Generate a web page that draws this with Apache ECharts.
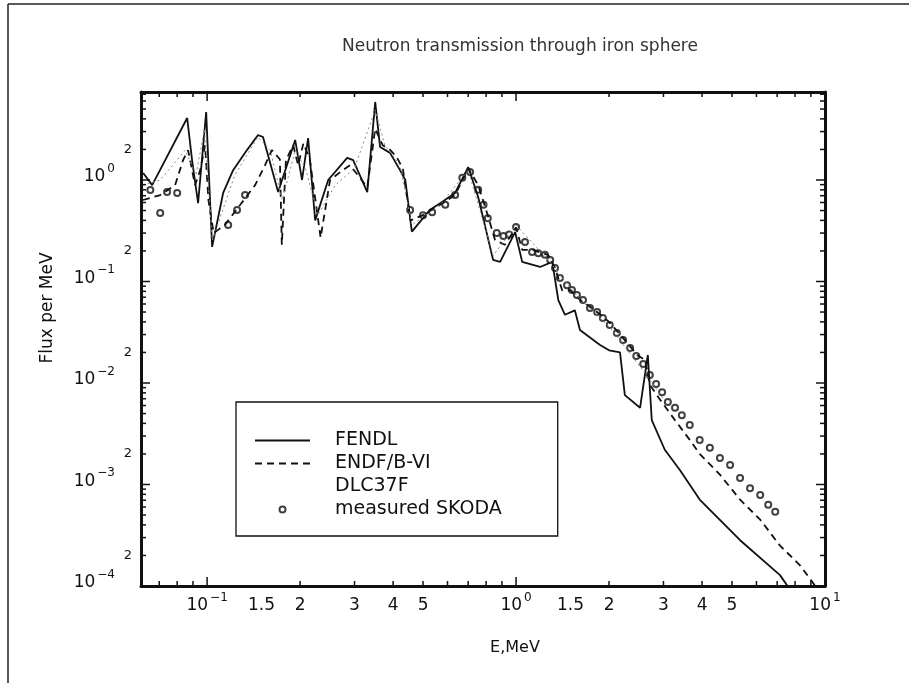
<!DOCTYPE html>
<html>
<head>
<meta charset="utf-8">
<title>Neutron transmission through iron sphere</title>
<script src="https://cdn.jsdelivr.net/npm/echarts@6/dist/echarts.min.js"></script>
<style>
  html, body { margin: 0; padding: 0; background: #fff; }
  #chart { width: 909px; height: 683px; }
</style>
</head>
<body>
<div id="chart"></div>
<script>
// values: energy in MeV, flux per MeV
const fendlE = [0.0621, 0.0664, 0.0862, 0.0894, 0.0935, 0.0993, 0.1038, 0.1127, 0.1214, 0.1346, 0.1462, 0.1517, 0.1698, 0.1928, 0.2029, 0.2123, 0.2238, 0.2466, 0.284, 0.297, 0.330, 0.350, 0.363, 0.391, 0.421, 0.438, 0.460, 0.527, 0.568, 0.635, 0.700, 0.754, 0.843, 0.888, 0.993, 1.047, 1.196, 1.31, 1.37, 1.44, 1.55, 1.61, 1.87, 2.0, 2.17, 2.25, 2.52, 2.67, 2.75, 3.03, 3.39, 3.93, 5.3, 7.15, 8.5];
const fendlFlux = [1.17, 0.89, 4.08, 1.57, 0.59, 4.68, 0.219, 0.745, 1.25, 1.97, 2.77, 2.65, 0.76, 2.48, 1.0, 2.59, 0.40, 1.0, 1.65, 1.57, 0.76, 5.87, 2.11, 1.85, 1.25, 1.0, 0.31, 0.51, 0.59, 0.745, 1.34, 0.68, 0.163, 0.156, 0.307, 0.156, 0.139, 0.156, 0.0657, 0.047, 0.052, 0.0333, 0.0237, 0.021, 0.02, 0.0076, 0.0057, 0.0189, 0.0043, 0.0022, 0.00139, 0.00071, 0.000284, 0.000128, 0.00006];

const endfE = [0.062, 0.0705, 0.0788, 0.0836, 0.0868, 0.0914, 0.095, 0.0985, 0.101, 0.105, 0.114, 0.128, 0.143, 0.154, 0.162, 0.172, 0.1745, 0.18, 0.19, 0.197, 0.205, 0.215, 0.233, 0.25, 0.27, 0.29, 0.33, 0.35, 0.37, 0.39, 0.41, 0.43, 0.455, 0.5, 0.568, 0.635, 0.70, 0.754, 0.81, 0.855, 0.92, 1.0, 1.047, 1.13, 1.27, 1.337, 1.41, 1.5, 1.61, 1.8, 2.0, 2.25, 2.47, 2.62, 2.71, 2.93, 3.27, 3.65, 3.93, 4.57, 5.31, 6.17, 7.15, 8.3, 9.3];
const endfFlux = [0.635, 0.71, 0.89, 1.57, 1.97, 0.89, 1.25, 2.2, 0.635, 0.30, 0.36, 0.57, 0.89, 1.4, 1.97, 1.6, 0.23, 1.57, 2.2, 1.4, 2.3, 1.6, 0.27, 1.0, 1.2, 1.4, 0.85, 3.2, 2.2, 2.0, 1.7, 1.3, 0.4, 0.45, 0.57, 0.71, 1.31, 0.89, 0.45, 0.256, 0.23, 0.34, 0.205, 0.205, 0.183, 0.136, 0.082, 0.082, 0.066, 0.052, 0.04, 0.0265, 0.0188, 0.0168, 0.0096, 0.0068, 0.0043, 0.00275, 0.002, 0.00125, 0.00071, 0.00045, 0.00025, 0.00016, 0.0001];

const dlcE = [0.062, 0.0705, 0.085, 0.092, 0.098, 0.104, 0.123, 0.146, 0.16, 0.175, 0.193, 0.209, 0.228, 0.26, 0.30, 0.35, 0.376, 0.421, 0.46, 0.568, 0.70, 0.843, 1.0, 1.3, 1.6, 2.0, 2.5, 3.0];
const dlcFlux = [0.89, 1.0, 1.97, 1.12, 3.1, 0.256, 1.12, 2.65, 1.97, 0.635, 1.97, 1.25, 0.45, 0.89, 1.31, 4.9, 2.2, 1.4, 0.36, 0.57, 1.25, 0.18, 0.36, 0.15, 0.068, 0.036, 0.015, 0.007];

const skodaE = [0.0655, 0.0705, 0.0742, 0.080, 0.117, 0.125, 0.1327, 0.454, 0.50, 0.535, 0.59, 0.635, 0.67, 0.71, 0.754, 0.785, 0.81, 0.866, 0.91, 0.95, 1.0, 1.069, 1.127, 1.18, 1.24, 1.29, 1.337, 1.387, 1.462, 1.517, 1.574, 1.647, 1.735, 1.83, 1.91, 2.01, 2.12, 2.22, 2.34, 2.45, 2.58, 2.71, 2.84, 2.97, 3.10, 3.27, 3.44, 3.65, 3.93, 4.24, 4.57, 4.93, 5.31, 5.72, 6.17, 6.55, 6.9];
const skodaFlux = [0.797, 0.473, 0.76, 0.745, 0.36, 0.506, 0.71, 0.506, 0.45, 0.48, 0.57, 0.71, 1.05, 1.2, 0.80, 0.57, 0.42, 0.30, 0.28, 0.29, 0.344, 0.245, 0.195, 0.19, 0.183, 0.163, 0.136, 0.108, 0.092, 0.0825, 0.0737, 0.0658, 0.0548, 0.050, 0.0437, 0.0372, 0.0311, 0.0265, 0.0221, 0.0185, 0.0154, 0.012, 0.0098, 0.0081, 0.0065, 0.0057, 0.0048, 0.00386, 0.00275, 0.0023, 0.00182, 0.00156, 0.00116, 0.00092, 0.00079, 0.00063, 0.00054];

// axis ranges and ticks
const X_MIN = 0.0611, X_MAX = 10;
const Y_MIN = 1e-4, Y_MAX = 7.36;
const xMajorTicks = [0.1, 1, 10];
const xMinorTicks = [0.07, 0.08, 0.09, 0.2, 0.3, 0.4, 0.5, 0.6, 0.7, 0.8, 0.9, 2, 3, 4, 5, 6, 7, 8, 9];
const yMajorTicks = [1e-4, 1e-3, 1e-2, 1e-1, 1];
const yMinorTicks = [2e-4, 3e-4, 4e-4, 5e-4, 6e-4, 7e-4, 8e-4, 9e-4,
  2e-3, 3e-3, 4e-3, 5e-3, 6e-3, 7e-3, 8e-3, 9e-3,
  0.02, 0.03, 0.04, 0.05, 0.06, 0.07, 0.08, 0.09,
  0.2, 0.3, 0.4, 0.5, 0.6, 0.7, 0.8, 0.9,
  2, 3, 4, 5, 6, 7];
const xLabelValues = [0.1, 0.15, 0.2, 0.3, 0.4, 0.5, 1, 1.5, 2, 3, 4, 5, 10];
const xLabelTexts = ['10^−1', '1.5', '2', '3', '4', '5', '10^0', '1.5', '2', '3', '4', '5', '10^1'];
const yLabelValues = [1, 0.1, 0.01, 0.001, 0.0001];
const yLabelTexts = ['10^0', '10^−1', '10^−2', '10^−3', '10^−4'];
const yTwoValues = [2, 0.2, 0.02, 0.002, 0.0002];
const yTwoTexts = ['2', '2', '2', '2', '2'];

const FONT = 'DejaVu Sans';
const INK = '#111';
const zip = (xs, ys) => xs.map((x, i) => [x, ys[i]]);

// '10^-1' -> rich text with a raised exponent
function richLabel(t) {
  const m = t.match(/^(\d+)\^(.+)$/);
  return m ? '{b|' + m[1] + '}{e|' + m[2] + '}' : '{b|' + t + '}';
}

// inside ticks on all four sides of the frame
function tickSeries(values, axis, len) {
  return {
    type: 'custom', silent: true, z: 4,
    data: values.map(v => axis === 'x' ? [v, Y_MIN] : [X_MIN, v]),
    renderItem: (params, api) => {
      const style = { stroke: INK, lineWidth: 1.5 };
      if (axis === 'x') {
        const b = api.coord([api.value(0), Y_MIN]);
        const t = api.coord([api.value(0), Y_MAX]);
        return { type: 'group', children: [
          { type: 'line', shape: { x1: b[0], y1: b[1], x2: b[0], y2: b[1] - len }, style },
          { type: 'line', shape: { x1: t[0], y1: t[1], x2: t[0], y2: t[1] + len }, style }
        ] };
      }
      const l = api.coord([X_MIN, api.value(1)]);
      const r = api.coord([X_MAX, api.value(1)]);
      return { type: 'group', children: [
        { type: 'line', shape: { x1: l[0], y1: l[1], x2: l[0] + len, y2: l[1] }, style },
        { type: 'line', shape: { x1: r[0], y1: r[1], x2: r[0] - len, y2: r[1] }, style }
      ] };
    }
  };
}

// tick labels placed through the axes' own scale
function labelSeries(values, texts, axis, dx, dy, align, size) {
  return {
    type: 'custom', silent: true, z: 4,
    data: values.map(v => axis === 'x' ? [v, Y_MIN] : [X_MIN, v]),
    renderItem: (params, api) => {
      const p = axis === 'x' ? api.coord([api.value(0), Y_MIN]) : api.coord([X_MIN, api.value(1)]);
      return {
        type: 'text', x: p[0] + dx, y: p[1] + dy,
        style: {
          text: richLabel(texts[params.dataIndex]), align: align, verticalAlign: 'middle',
          rich: {
            b: { fontFamily: FONT, fontSize: size, lineHeight: size + 6, verticalAlign: 'bottom', fill: INK },
            e: { fontFamily: FONT, fontSize: Math.round(size * 0.72), lineHeight: size * 0.72, verticalAlign: 'top', fill: INK, padding: [0, 0, 0, 2] }
          }
        }
      };
    }
  };
}

const baseAxis = {
  type: 'log', logBase: 10,
  axisLine: { onZero: false, lineStyle: { color: INK, width: 3 } },
  axisTick: { show: false }, axisLabel: { show: false },
  splitLine: { show: false }, minorTick: { show: false }
};

const chart = echarts.init(document.getElementById('chart'));
chart.setOption({
  animation: false,
  backgroundColor: '#fff',
  title: {
    text: 'Neutron transmission through iron sphere',
    left: 515, top: 33, textAlign: 'center',
    textStyle: { fontFamily: FONT, fontSize: 17, fontWeight: 'normal', color: '#333' }
  },
  grid: { left: 141, right: 84, top: 92, bottom: 97 },
  xAxis: [
    Object.assign({}, baseAxis, { min: X_MIN, max: X_MAX, position: 'bottom' }),
    Object.assign({}, baseAxis, { min: X_MIN, max: X_MAX, position: 'top' })
  ],
  yAxis: [
    Object.assign({}, baseAxis, { min: Y_MIN, max: Y_MAX, position: 'left' }),
    Object.assign({}, baseAxis, { min: Y_MIN, max: Y_MAX, position: 'right' })
  ],
  legend: {
    orient: 'vertical', left: 236, top: 402,
    data: [
      { name: 'FENDL', itemStyle: { opacity: 0 } },
      { name: 'ENDF/B-VI', itemStyle: { opacity: 0 } },
      { name: 'DLC37F', itemStyle: { opacity: 0 }, lineStyle: { opacity: 0 } },
      'measured SKODA'
    ],
    itemWidth: 55, itemHeight: 6, itemGap: 4,
    padding: [29, 56, 17, 18],
    borderColor: INK, borderWidth: 1.3,
    selectedMode: false,
    textStyle: { fontFamily: FONT, fontSize: 19, color: INK, padding: [0, 0, 0, 20] }
  },
  graphic: [
    { type: 'line', shape: { x1: 8, y1: 4, x2: 909, y2: 4 }, style: { stroke: '#222', lineWidth: 1.5 } },
    { type: 'line', shape: { x1: 8, y1: 4, x2: 8, y2: 683 }, style: { stroke: '#222', lineWidth: 1.5 } },
    { type: 'text', x: 48, y: 308, rotation: Math.PI / 2,
      style: { text: 'Flux per MeV', align: 'center', verticalAlign: 'middle', font: '17px "' + FONT + '"', fill: INK } },
    { type: 'text', x: 515, y: 648,
      style: { text: 'E,MeV', align: 'center', verticalAlign: 'middle', font: '16px "' + FONT + '"', fill: INK } }
  ],
  series: [
    {
      name: 'FENDL', type: 'line', data: zip(fendlE, fendlFlux),
      symbol: 'none', showSymbol: false, color: INK,
      lineStyle: { color: INK, width: 1.8 }
    },
    {
      name: 'ENDF/B-VI', type: 'line', data: zip(endfE, endfFlux),
      symbol: 'none', showSymbol: false, color: INK,
      lineStyle: { color: INK, width: 1.8, type: [7, 5] }
    },
    {
      name: 'DLC37F', type: 'line', data: zip(dlcE, dlcFlux),
      symbol: 'none', showSymbol: false, color: '#888',
      lineStyle: { color: '#888', width: 1, type: [2, 3] }
    },
    {
      name: 'measured SKODA', type: 'scatter', data: zip(skodaE, skodaFlux),
      symbol: 'emptyCircle', symbolSize: 6, color: INK,
      itemStyle: { color: INK, borderColor: INK, borderWidth: 1.3 }
    },
    tickSeries(xMajorTicks, 'x', 9),
    tickSeries(xMinorTicks, 'x', 5),
    tickSeries(yMajorTicks, 'y', 9),
    tickSeries(yMinorTicks, 'y', 5),
    labelSeries(xLabelValues, xLabelTexts, 'x', 0, 17, 'center', 17),
    labelSeries(yLabelValues, yLabelTexts, 'y', -26, -6, 'right', 17),
    labelSeries(yTwoValues, yTwoTexts, 'y', -13, -3, 'center', 13)
  ]
});
</script>
</body>
</html>
